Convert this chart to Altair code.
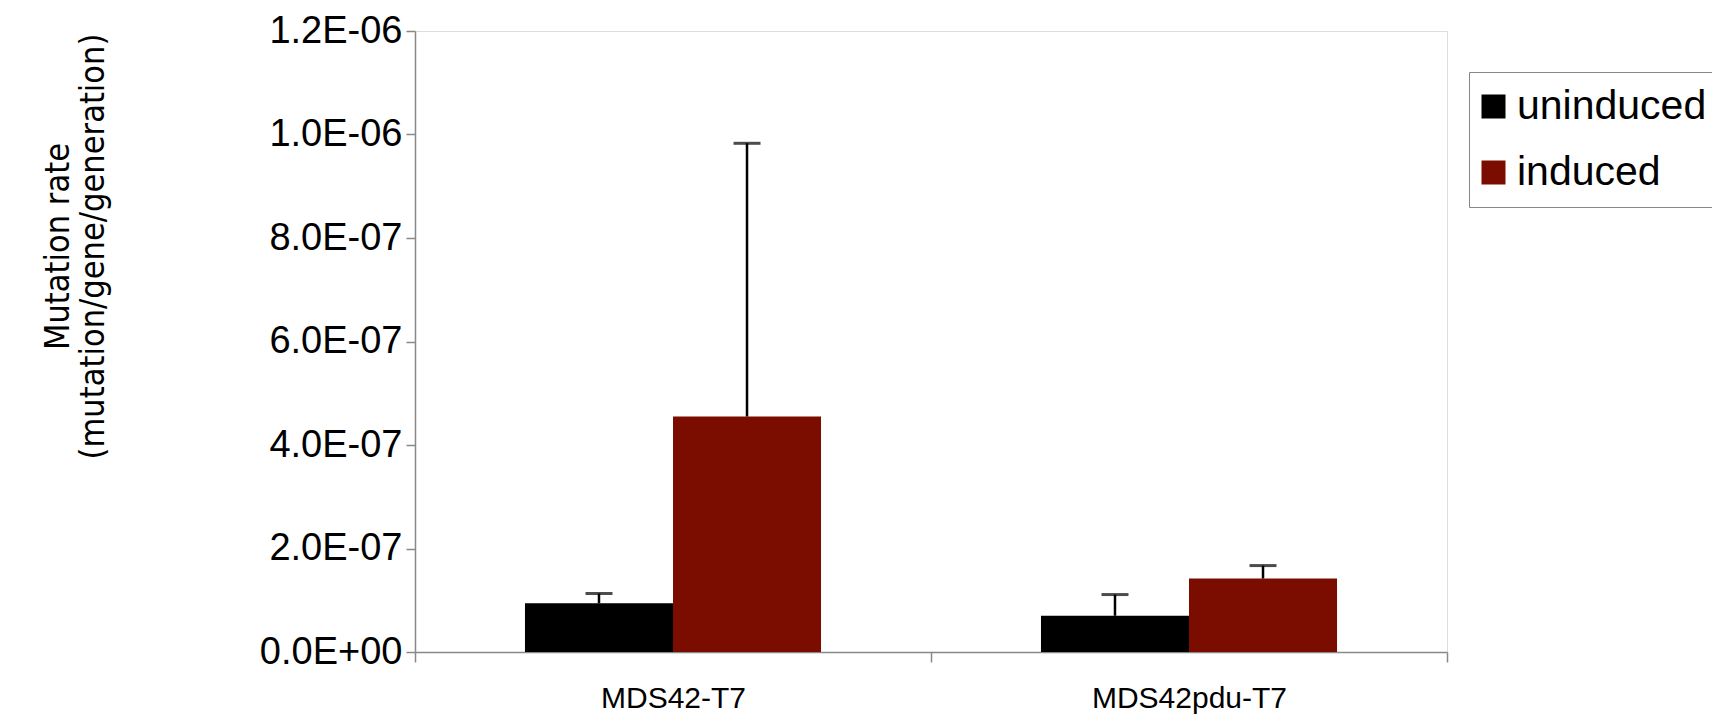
import altair as alt
import pandas as pd

groups = ["MDS42-T7", "MDS42pdu-T7"]
conditions = ["uninduced", "induced"]
uninduced_rate = [9.4e-8, 7.0e-8]
induced_rate = [4.55e-7, 1.42e-7]
uninduced_err = [1.9e-8, 4.1e-8]
induced_err = [5.28e-7, 2.5e-8]
tick_values = [0, 2e-7, 4e-7, 6e-7, 8e-7, 1.0e-6, 1.2e-6]
tick_labels = ["0.0E+00", "2.0E-07", "4.0E-07", "6.0E-07", "8.0E-07", "1.0E-06", "1.2E-06"]
bar_colors = ["#000000", "#7B0C00"]

rows = []
for i, g in enumerate(groups):
    rows.append({"group": g, "condition": "uninduced", "rate": uninduced_rate[i],
                 "upper": uninduced_rate[i] + uninduced_err[i]})
    rows.append({"group": g, "condition": "induced", "rate": induced_rate[i],
                 "upper": induced_rate[i] + induced_err[i]})
df = pd.DataFrame(rows)

label_array = "[" + ",".join("'%s'" % s for s in tick_labels) + "]"

x_enc = alt.X("group:N", sort=groups,
              scale=alt.Scale(paddingInner=0, paddingOuter=0),
              axis=alt.Axis(title=None, labelAngle=0, labelFontSize=30,
                            labelFont="Liberation Sans", labelColor="#000",
                            labelLimit=0, labelPadding=21, tickBand="extent",
                            tickSize=10, tickColor="#888", domainColor="#888",
                            domainWidth=1.5, tickWidth=1.5))
xo_enc = alt.XOffset("condition:N", sort=conditions,
                     scale=alt.Scale(paddingInner=0, paddingOuter=0.743))
y_scale = alt.Scale(domain=[0, 1.2e-6], nice=False, zero=True)

bars = alt.Chart(df).mark_bar().encode(
    x=x_enc,
    xOffset=xo_enc,
    y=alt.Y("rate:Q", scale=y_scale,
            axis=alt.Axis(values=tick_values,
                          labelExpr=label_array + "[round(datum.value/2e-7)]",
                          title=["Mutation rate", "(mutation/gene/generation)"],
                          titleFont="Liberation Sans Narrow, DejaVu Sans Condensed, Liberation Sans",
                          titleFontSize=34, titleFontWeight="normal",
                          titleAngle=270, titleAlign="center", titleBaseline="top",
                          titleX=-374, titleY=215, titleLineHeight=35,
                          titleLimit=0,
                          labelFontSize=38, labelFont="Liberation Sans",
                          labelColor="#000", labelPadding=4, tickSize=9,
                          tickColor="#888", domainColor="#888", domainWidth=1.5,
                          tickWidth=1.5, grid=False)),
    color=alt.Color("condition:N", sort=conditions,
                    scale=alt.Scale(domain=conditions, range=bar_colors),
                    legend=alt.Legend(title=None, orient="none", legendX=1054, legendY=41,
                                      symbolType="square", symbolSize=576,
                                      symbolStrokeWidth=0, symbolOffset=-10,
                                      labelFontSize=41,
                                      labelFont="Liberation Sans", labelColor="#000",
                                      labelLimit=0, labelOffset=3, rowPadding=24,
                                      padding=14, strokeColor="#888",
                                      fillColor="white", cornerRadius=0)),
)

err = alt.Chart(df).mark_rule(color="#000", strokeWidth=2.5).encode(
    x=x_enc, xOffset=xo_enc,
    y=alt.Y("rate:Q", scale=y_scale), y2="upper:Q",
)
caps = alt.Chart(df).mark_tick(color="#000", thickness=3, size=27).encode(
    x=x_enc, xOffset=xo_enc,
    y=alt.Y("upper:Q", scale=y_scale),
)

chart = alt.layer(bars, err, caps).properties(
    width=1032, height=621,
    autosize=alt.AutoSizeParams(type="none"),
    padding={"left": 407, "top": 23, "right": 265, "bottom": 62},
).configure_view(stroke=None).configure(background="white")

chart.save("out.html", embed_options={"renderer": "svg", "actions": False})
